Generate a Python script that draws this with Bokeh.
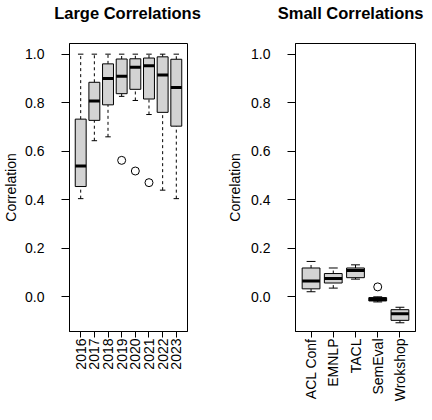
import math
from bokeh.plotting import figure
from bokeh.layouts import row, column
from bokeh.models import Range1d, FixedTicker, PrintfTickFormatter
from bokeh.core.properties import value
from bokeh.embed import file_html
from bokeh.resources import INLINE

# ---- data ----
years = ["2016", "2017", "2018", "2019", "2020", "2021", "2022", "2023"]
large_low = [0.404, 0.643, 0.659, 0.826, 0.809, 0.751, 0.439, 0.404]
large_q1 = [0.454, 0.727, 0.791, 0.837, 0.855, 0.815, 0.760, 0.703]
large_med = [0.539, 0.807, 0.900, 0.909, 0.946, 0.952, 0.914, 0.863]
large_q3 = [0.732, 0.884, 0.960, 0.980, 0.981, 0.984, 0.989, 0.979]
large_high = [1.000, 1.000, 1.000, 1.000, 1.000, 1.000, 1.000, 1.000]
large_out_cat = ["2019", "2020", "2021"]
large_out_val = [0.562, 0.518, 0.470]

venues = ["ACL Conf", "EMNLP", "TACL", "SemEval", "Wrokshop"]
small_low = [0.020, 0.035, 0.072, -0.022, -0.108]
small_q1 = [0.032, 0.056, 0.078, -0.018, -0.098]
small_med = [0.064, 0.075, 0.108, -0.012, -0.071]
small_q3 = [0.118, 0.095, 0.118, -0.004, -0.054]
small_high = [0.145, 0.118, 0.131, -0.001, -0.044]
small_out_cat = ["SemEval"]
small_out_val = [0.040]

titles = ["Large Correlations", "Small Correlations"]
y_ticks = [0.0, 0.2, 0.4, 0.6, 0.8, 1.0]

FONT = "Liberation Sans"
FILL = "#d3d3d3"
HEAD = 25
H = 404 - HEAD
TOP = 43 - HEAD
BOTTOM = H - TOP - 295
Y0, Y1 = -0.144, 1.044


def make_header(text, width, tx, align):
    h = figure(width=width, height=HEAD, output_backend="svg", toolbar_location=None,
               x_range=Range1d(0, width), y_range=Range1d(0, HEAD),
               x_axis_location=None, y_axis_location=None,
               min_border_left=0, min_border_right=0, min_border_top=0, min_border_bottom=0)
    h.outline_line_color = None
    h.xgrid.visible = False
    h.ygrid.visible = False
    h.text(x=[tx], y=[13], text=[text], text_align=align, text_baseline="alphabetic",
           text_font=value(FONT), text_font_size="16.5px", text_font_style="bold",
           text_color="black")
    return h


def make_panel(cats, low, q1, med, q3, high, out_cat, out_val,
               width, bl, br, ylab_standoff):
    n = len(cats)
    pad = n * 0.04
    p = figure(width=width, height=H, output_backend="svg", toolbar_location=None,
               x_range=Range1d(0.5 - pad, n + 0.5 + pad), y_range=Range1d(Y0, Y1),
               min_border_left=bl, min_border_right=br,
               min_border_top=TOP, min_border_bottom=BOTTOM)
    p.xgrid.visible = False
    p.ygrid.visible = False
    p.outline_line_color = "black"
    p.outline_line_width = 1
    p.background_fill_color = "white"
    p.border_fill_color = "white"

    xs = [i + 1 for i in range(n)]
    hw = 0.4
    sw = 0.2
    # whiskers
    p.segment(x0=xs, y0=q3, x1=xs, y1=high, line_color="black", line_width=1, line_dash="3 3")
    p.segment(x0=xs, y0=low, x1=xs, y1=q1, line_color="black", line_width=1, line_dash="3 3")
    # staples
    p.segment(x0=[x - sw for x in xs], y0=high, x1=[x + sw for x in xs], y1=high,
              line_color="black", line_width=1)
    p.segment(x0=[x - sw for x in xs], y0=low, x1=[x + sw for x in xs], y1=low,
              line_color="black", line_width=1)
    # boxes
    p.quad(left=[x - hw for x in xs], right=[x + hw for x in xs], bottom=q1, top=q3,
           fill_color=FILL, line_color="black", line_width=1)
    # medians
    p.segment(x0=[x - hw for x in xs], y0=med, x1=[x + hw for x in xs], y1=med,
              line_color="black", line_width=3)
    # outliers
    ox = [cats.index(c) + 1 for c in out_cat]
    p.scatter(x=ox, y=out_val, size=8, marker="circle", fill_color=None,
              line_color="black", line_width=1)

    # axes
    p.xaxis.ticker = FixedTicker(ticks=xs)
    p.xaxis.major_label_overrides = {x: c for x, c in zip(xs, cats)}
    p.xaxis.major_label_orientation = math.pi / 2
    p.yaxis.ticker = FixedTicker(ticks=y_ticks)
    p.yaxis.formatter = PrintfTickFormatter(format="%.1f")
    p.yaxis.axis_label = "Correlation"
    p.yaxis.axis_label_text_font_style = "normal"
    p.yaxis.axis_label_text_font = FONT
    p.yaxis.axis_label_text_font_size = "14px"
    p.yaxis.axis_label_text_color = "black"
    p.yaxis.axis_label_standoff = ylab_standoff
    for ax in (p.xaxis, p.yaxis):
        ax.major_label_text_font = FONT
        ax.major_label_text_font_size = "14px"
        ax.major_label_text_color = "black"
        ax.major_tick_out = 7
        ax.major_tick_in = 0
        ax.minor_tick_out = 0
        ax.minor_tick_in = 0
        ax.axis_line_color = "black"
        ax.major_tick_line_color = "black"
    p.xaxis.major_tick_out = 6
    p.xaxis.major_label_standoff = 1
    p.yaxis.major_tick_out = 8
    p.yaxis.major_label_standoff = 17
    return p


h1 = make_header(titles[0], 216, 127, "center")
h2 = make_header(titles[1], 208, 207, "right")
p1 = make_panel(years, large_low, large_q1, large_med, large_q3,
                large_high, large_out_cat, large_out_val, 216, 67, 29, 3)
p2 = make_panel(venues, small_low, small_q1, small_med, small_q3,
                small_high, small_out_cat, small_out_val, 208, 79, 9, 5)

layout = column(row(h1, h2), row(p1, p2))
open("out.html", "w").write(file_html(layout, INLINE))
